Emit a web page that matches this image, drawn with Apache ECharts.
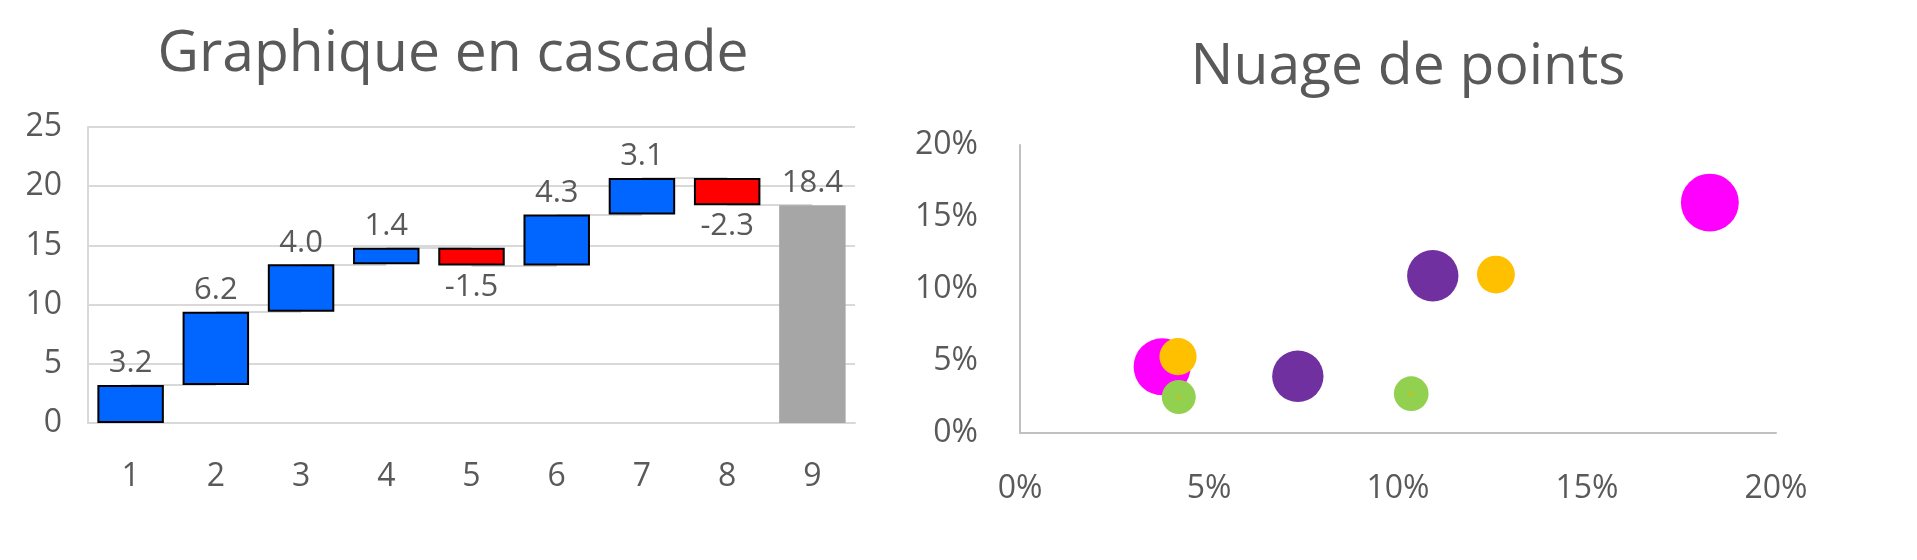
<!DOCTYPE html>
<html>
<head>
<meta charset="utf-8">
<script src="https://cdn.jsdelivr.net/npm/echarts@6/dist/echarts.min.js"></script>
<style>
html,body{margin:0;padding:0;background:#fff;}
#c{width:1917px;height:560px;}
</style>
</head>
<body>
<div id="c"></div>
<script>
// ---- Data ----
const wfTitle = 'Graphique en cascade';
const wfCategories = ['1', '2', '3', '4', '5', '6', '7', '8', '9'];
const wfDeltas = [3.2, 6.2, 4.0, 1.4, -1.5, 4.3, 3.1, -2.3];
const wfTotal = 18.4;
const wfYMin = 0, wfYMax = 25, wfYStep = 5;

const scTitle = 'Nuage de points';
const scXMin = 0, scXMax = 20, scXStep = 5;
const scYMin = 0, scYMax = 20, scYStep = 5;
// [x %, y %, bubble size]
const magentaPts = [[3.76, 4.6, 12.7], [18.25, 16.0, 13.1]];
const purplePts  = [[7.35, 3.94, 10.3], [10.92, 10.92, 10.3]];
const orangePts  = [[4.18, 5.3, 5.4], [12.59, 11.0, 5.6]];
const greenPts   = [[4.2, 2.5, 4.5], [10.35, 2.73, 4.7]];
const yellowPts  = [[4.2, 2.5, 0.04], [10.35, 2.73, 0.04]];

// ---- Build waterfall ----
const FONT = 'Open Sans';
const TXT = '#595959';
const BLUE = '#0066ff', RED = '#ff0000', GRAY = '#a6a6a6';

const baseVals = [], barItems = [], cums = [];
let cum = 0;
wfDeltas.forEach((d, i) => {
  const start = cum;
  cum = +(cum + d).toFixed(4);
  cums.push(cum);
  baseVals.push(Math.min(start, cum));
  barItems.push({
    value: Math.abs(d),
    itemStyle: { color: d >= 0 ? BLUE : RED, borderColor: '#000', borderWidth: 2 },
    label: { position: d >= 0 ? 'top' : 'bottom' }
  });
});
baseVals.push(0);
barItems.push({ value: wfTotal, itemStyle: { color: GRAY, borderWidth: 0 }, label: { position: 'top' } });
const labelVals = wfDeltas.concat([wfTotal]);

const connectors = [];
cums.forEach((c, i) => {
  connectors.push([{ coord: [i, c] }, { coord: [i + 1, c] }]);
});

function bubble(pts, color, z) {
  return {
    type: 'scatter', xAxisIndex: 1, yAxisIndex: 1, z: z,
    data: pts,
    symbolSize: d => 16 * Math.sqrt(d[2]),
    itemStyle: { color: color, opacity: 1 },
    emphasis: { disabled: true }
  };
}

const chart = echarts.init(document.getElementById('c'));
chart.setOption({
  animation: false,
  backgroundColor: '#fff',
  textStyle: { fontFamily: FONT },
  title: [
    { text: wfTitle, left: 448, top: 21, textAlign: 'center',
      textStyle: { fontFamily: FONT, fontSize: 57, fontWeight: 'normal', color: TXT } },
    { text: scTitle, left: 1403, top: 34, textAlign: 'center',
      textStyle: { fontFamily: FONT, fontSize: 57, fontWeight: 'normal', color: TXT } }
  ],
  grid: [
    { left: 88, top: 127, width: 767, height: 296 },
    { left: 1020, top: 145, width: 756, height: 288 }
  ],
  xAxis: [
    { type: 'category', gridIndex: 0, data: wfCategories,
      axisLine: { show: true, lineStyle: { color: '#d9d9d9', width: 2 } },
      axisTick: { show: false },
      axisLabel: { color: TXT, fontSize: 32, fontFamily: FONT, margin: 38 } },
    { type: 'value', gridIndex: 1, min: scXMin, max: scXMax, interval: scXStep,
      axisLine: { show: true, lineStyle: { color: '#c0c0c0', width: 2 } },
      axisTick: { show: false }, splitLine: { show: false },
      axisLabel: { color: TXT, fontSize: 32, fontFamily: FONT, margin: 40, formatter: '{value}%' } }
  ],
  yAxis: [
    { type: 'value', gridIndex: 0, min: wfYMin, max: wfYMax, interval: wfYStep,
      axisLine: { show: true, lineStyle: { color: '#d9d9d9', width: 2 } },
      axisTick: { show: false },
      splitLine: { show: true, lineStyle: { color: '#d9d9d9', width: 2 } },
      axisLabel: { color: TXT, fontSize: 32, fontFamily: FONT, margin: 26 } },
    { type: 'value', gridIndex: 1, min: scYMin, max: scYMax, interval: scYStep,
      axisLine: { show: true, lineStyle: { color: '#c0c0c0', width: 2 } },
      axisTick: { show: false }, splitLine: { show: false },
      axisLabel: { color: TXT, fontSize: 32, fontFamily: FONT, margin: 42, formatter: '{value}%' } }
  ],
  series: [
    { type: 'bar', xAxisIndex: 0, yAxisIndex: 0, stack: 'wf', z: 1,
      data: baseVals, barCategoryGap: '22%',
      itemStyle: { color: 'transparent', borderWidth: 0 },
      emphasis: { disabled: true }, silent: true,
      markLine: { silent: true, z: 1, symbol: ['none', 'none'], label: { show: false },
        lineStyle: { color: '#d9d9d9', width: 2, type: 'solid' },
        emphasis: { disabled: true }, data: connectors } },
    { type: 'bar', xAxisIndex: 0, yAxisIndex: 0, stack: 'wf', z: 3,
      data: barItems, barCategoryGap: '22%',
      emphasis: { disabled: true },
      label: { show: true, color: TXT, fontSize: 31, fontFamily: FONT, distance: 6,
        formatter: p => labelVals[p.dataIndex].toFixed(1) } },
    bubble(magentaPts, '#ff00ff', 2),
    bubble(purplePts, '#7030a0', 3),
    bubble(orangePts, '#ffc000', 4),
    bubble(greenPts, '#92d050', 5),
    bubble(yellowPts, '#e8b400', 6)
  ]
});
</script>
</body>
</html>
